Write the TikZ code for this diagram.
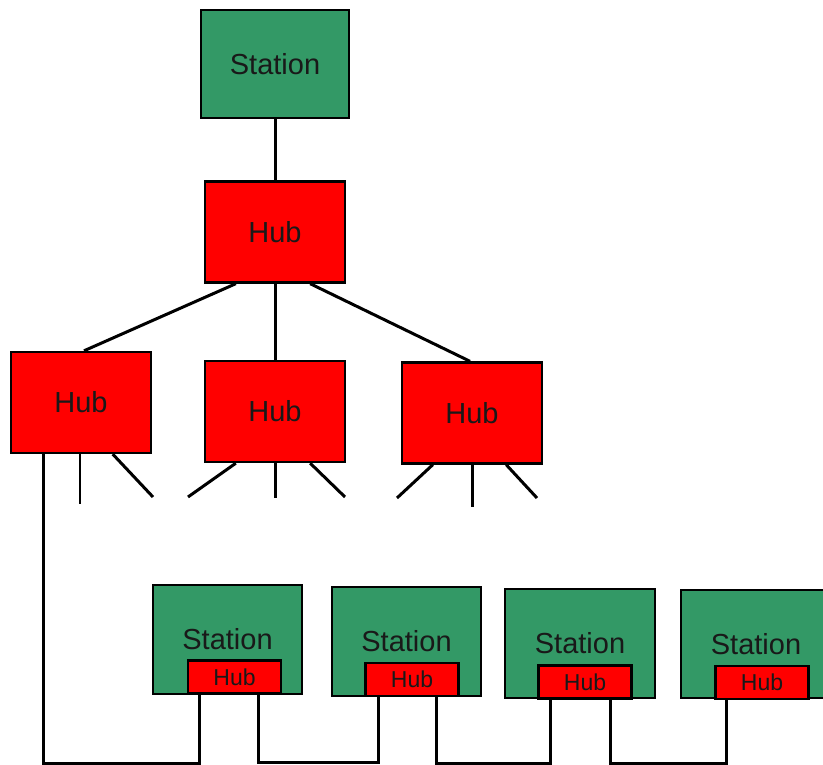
\documentclass[tikz,border=0pt]{standalone}
\usepackage{fontspec}
\setmainfont{Liberation Sans}
\usetikzlibrary{calc}
\definecolor{stgreen}{HTML}{339966}
\definecolor{hubred}{HTML}{FF0000}
\tikzset{
  stationbox/.style={draw=black, line width=1.6pt, fill=stgreen, inner sep=0pt,
    font=\fontsize{29}{29}\selectfont, text=black!90},
  hubbox/.style={draw=black, line width=2.4pt, fill=hubred, inner sep=0pt,
    minimum width=140pt, minimum height=101pt, font=\fontsize{29}{29}\selectfont, text=black!90},
  smallhub/.style={draw=black, line width=2.2pt, fill=hubred, inner sep=0pt,
    minimum width=93pt, minimum height=33pt, font=\fontsize{23}{23}\selectfont, text=black!90},
  wire/.style={draw=black, line width=3pt},
  thinwire/.style={draw=black, line width=2pt},
}
\begin{document}
\begin{tikzpicture}[x=1pt,y=-1pt]
\useasboundingbox (0,0) rectangle (823,765);
% top level
\node[stationbox, minimum width=148pt, minimum height=108pt] (stT) at (275,64) {Station};
\node[hubbox] (hubT) at (275,232) {Hub};
\node[hubbox] (hubL) at (81,402.5) {Hub};
\node[hubbox] (hubM) at (275,411.5) {Hub};
\node[hubbox] (hubR) at (472,413) {Hub};
% bottom stations
\node[stationbox, minimum width=149pt, minimum height=109pt] (s1) at (227.5,639.5) {Station};
\node[stationbox, minimum width=149pt, minimum height=109pt] (s2) at (406.5,641.5) {Station};
\node[stationbox, minimum width=150pt, minimum height=109pt] (s3) at (580,643.5) {Station};
\node[stationbox, minimum width=150pt, minimum height=108pt] (s4) at (756,644) {Station};
\node[smallhub] (h1) at (234.5,677) {Hub};
\node[smallhub] (h2) at (412,679.5) {Hub};
\node[smallhub] (h3) at (585,682) {Hub};
\node[smallhub] (h4) at (762,682.5) {Hub};
% free ends of the stubs
\coordinate (eL2) at (153,497);
\coordinate (eM1) at (188,497);
\coordinate (eM3) at (345,497);
\coordinate (eR1) at (397,498);
\coordinate (eR3) at (537,498);
\coordinate (bl) at (0,763);
% connectors
\draw[wire] (stT.south) -- (hubT.north);
\draw[wire] (hubT.south) -- (hubM.north);
\draw[wire] ($(hubT.south west)+(32,0)$) -- ($(hubL.north)+(3,0)$);
\draw[wire] ($(hubT.south east)+(-36,0)$) -- ($(hubR.north)+(-2,0)$);
% stubs
\draw[thinwire] ($(hubL.south west)+(70,0)$) -- ++(0,50);
\draw[wire] ($(hubL.south west)+(103,0)$) -- (eL2);
\draw[wire] ($(hubM.south west)+(32,0)$) -- (eM1);
\draw[wire] (hubM.south) -- ++(0,35);
\draw[wire] ($(hubM.south east)+(-36,0)$) -- (eM3);
\draw[wire] ($(hubR.south west)+(32,0)$) -- (eR1);
\draw[wire] (hubR.south) -- ++(0,42);
\draw[wire] ($(hubR.south east)+(-37,0)$) -- (eR3);
% ring at bottom
\coordinate (lL) at ($(hubL.south west)+(34,0)$);
\draw[wire] (lL) -- (lL |- bl) -| ($(h1.south west)+(13,0)$);
\draw[wire] ($(h1.south east)+(-24,0)$) -- ++(0,68) -| ($(h2.south west)+(14,0)$);
\draw[wire] ($(h2.south east)+(-23,0)$) -- ++(0,66) -| ($(h3.south west)+(13,0)$);
\draw[wire] ($(h3.south east)+(-22,0)$) -- ++(0,64) -| ($(h4.south west)+(12,0)$);
\end{tikzpicture}
\end{document}
